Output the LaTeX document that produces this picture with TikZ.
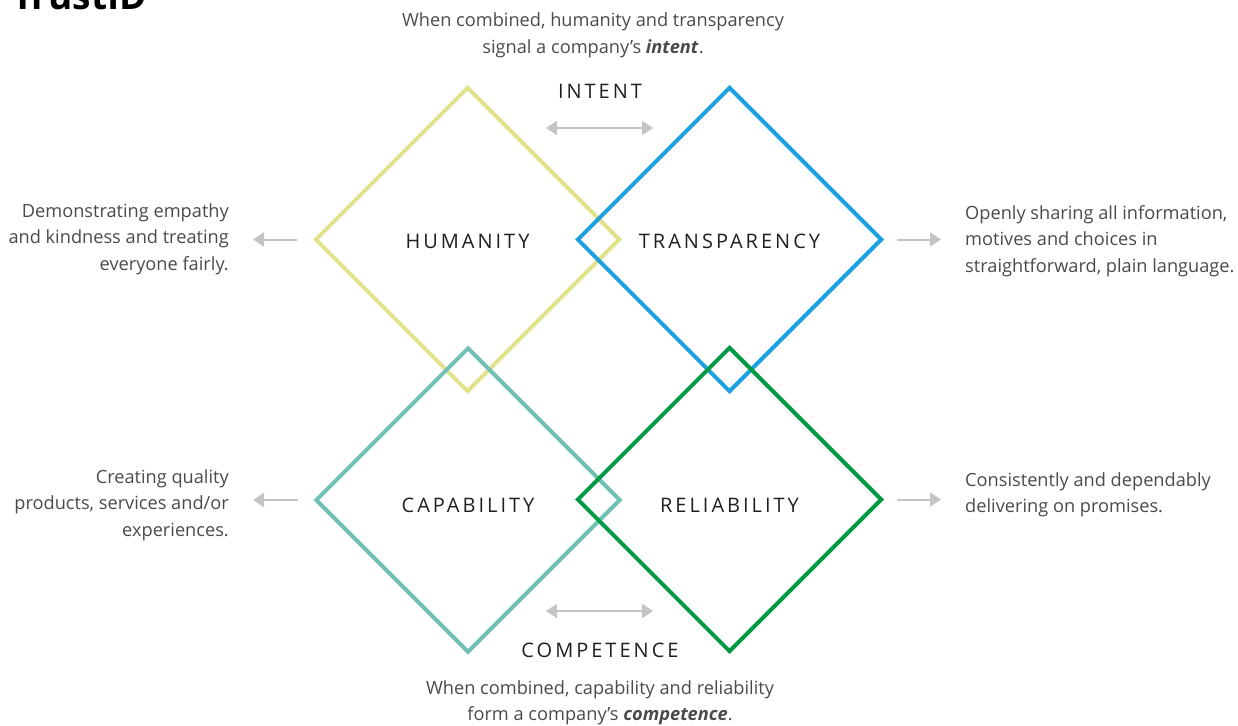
\documentclass[tikz,border=0pt]{standalone}
\usepackage{fontspec}
\setmainfont{Open Sans}
\newfontfamily\capsfont[LetterSpace=15]{Open Sans}
\usetikzlibrary{shapes.geometric,arrows.meta}
\definecolor{humcol}{HTML}{E0E38C}
\definecolor{trancol}{HTML}{1BA1E2}
\definecolor{capcol}{HTML}{6FC2B4}
\definecolor{relcol}{HTML}{009A44}
\definecolor{arrcol}{HTML}{C4C4C4}
\definecolor{txtcol}{HTML}{4A4A4A}

\begin{document}
\begin{tikzpicture}[x=1pt,y=-1pt,
  dia/.style={diamond,draw=#1,line width=4pt,minimum width=305pt,minimum height=305pt,
    inner sep=0pt,text=black!88,font=\capsfont\fontsize{20}{24}\selectfont},
  body/.style={inner sep=0pt,text=txtcol,font=\fontsize{18.2}{26.5}\selectfont},
  caps/.style={inner sep=0pt,text=black!88,font=\capsfont\fontsize{20}{24}\selectfont},
  arr/.style={draw=arrcol,line width=2pt,-{Triangle[length=11pt,width=14pt]}},
  darr/.style={draw=arrcol,line width=2pt,{Triangle[length=11pt,width=14pt]}-{Triangle[length=11pt,width=14pt]}}]
\useasboundingbox (0,0) rectangle (1238,725);
\node[anchor=base west,inner sep=0pt,font=\bfseries\fontsize{37}{44}\selectfont] (title) at (12,10) {TrustID};
% the four diamonds
\node[dia=humcol,text height=18pt] (hum) at (467.5,239.5) {HUMANITY};
\node[dia=trancol,text height=18pt] (tran) at (729.5,239.5) {TRANSPARENCY};
\node[dia=capcol,text height=26pt] (cap) at (468,500) {CAPABILITY};
\node[dia=relcol,text height=26pt] (rel) at (729.5,499.5) {RELIABILITY};
% top and bottom
\node[body,align=center] (introtxt) at (593,35.5) {When combined, humanity and transparency\\signal a company’s \textbf{\textit{intent}}.};
\node[caps] (intent) at (600,91) {INTENT};
\coordinate (il) at (546,128);
\coordinate (ir) at (653,128);
\draw[darr] (il) -- (ir);
\node[caps] (compet) at (600,650) {COMPETENCE};
\coordinate (cl) at (546,611);
\coordinate (cr) at (653,611);
\draw[darr] (cl) -- (cr);
\node[body,align=center] (comptxt) at (600,703) {When combined, capability and reliability\\form a company’s \textbf{\textit{competence}}.};
% side texts
\node[body,align=right,anchor=east] (humtxt) at (229,239) {Demonstrating empathy\\and kindness and treating\\everyone fairly.};
\node[body,align=left,anchor=west] (trantxt) at (965,241) {Openly sharing all information,\\motives and choices in\\straightforward, plain language.};
\node[body,align=right,anchor=east] (captxt) at (229,505) {Creating quality\\products, services and/or\\experiences.};
\node[body,align=left,anchor=west] (reltxt) at (965,495) {Consistently and dependably\\delivering on promises.};
\draw[arr] ([xshift=-16pt]hum.west) -- ([xshift=24pt]humtxt.east |- hum.west);
\draw[arr] ([xshift=13pt]tran.east) -- ([xshift=-24pt]trantxt.west |- tran.east);
\draw[arr] ([xshift=-16pt]cap.west) -- ([xshift=24pt]captxt.east |- cap.west);
\draw[arr] ([xshift=13pt]rel.east) -- ([xshift=-24pt]reltxt.west |- rel.east);
\end{tikzpicture}
\end{document}
